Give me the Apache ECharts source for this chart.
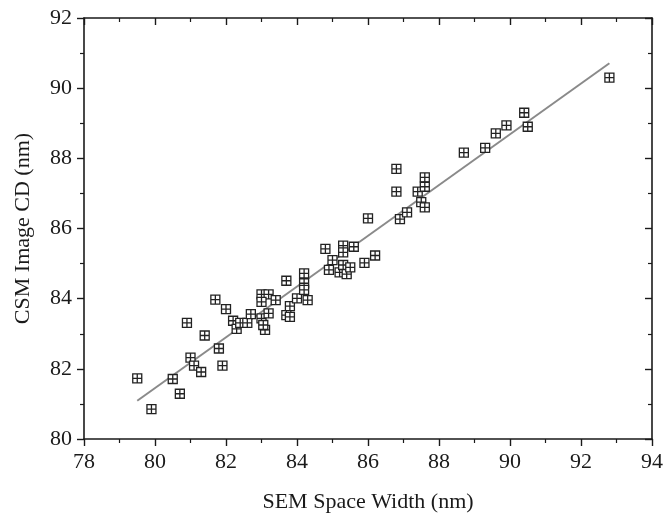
<!DOCTYPE html>
<html lang="en">
<head>
    <meta charset="UTF-8">
    <title>CSM vs SEM</title>
    <script src="https://cdn.jsdelivr.net/npm/echarts@6/dist/echarts.min.js"></script>
    <style>
        html, body { margin: 0; padding: 0; background: #fff; }
    </style>
</head>
<body>
<div id="chart" style="width: 666px;height:518px;"></div>

<script type="text/javascript">
    // SEM space width (nm)
    var semWidth = [
        79.5, 79.9, 80.5, 80.7, 80.9, 81.0, 81.1, 81.3, 81.4, 81.7,
        81.8, 81.9, 82.0, 82.2, 82.3, 82.4, 82.6, 82.7, 83.0, 83.2,
        83.0, 83.0, 83.2, 83.1, 83.4, 83.05, 83.7, 83.8, 83.7, 83.8,
        84.0, 84.2, 84.2, 84.2, 84.3, 84.8, 85.3, 85.3, 85.6, 85.0,
        85.9, 86.2, 84.9, 85.2, 85.3, 85.4, 85.5, 86.0, 86.9, 87.1,
        86.8, 86.8, 87.4, 87.5, 87.6, 87.6, 87.6, 88.7, 89.3, 89.6,
        89.9, 90.4, 90.5, 92.8
    ];
    // CSM image CD (nm)
    var csmCD = [
        81.73, 80.85, 81.71, 81.29, 83.31, 82.32, 82.09, 81.91, 82.95, 83.97,
        82.58, 82.09, 83.70, 83.37, 83.14, 83.31, 83.31, 83.56, 84.12, 84.12,
        83.91, 83.44, 83.58, 83.11, 83.96, 83.25, 84.51, 83.79, 83.53, 83.48,
        84.01, 84.72, 84.44, 84.25, 83.96, 85.42, 85.51, 85.32, 85.48, 85.10,
        85.02, 85.23, 84.82, 84.75, 84.96, 84.70, 84.89, 86.29, 86.27, 86.46,
        87.70, 87.05, 87.05, 86.75, 87.46, 87.19, 86.60, 88.16, 88.30, 88.71,
        88.94, 89.30, 88.90, 90.30
    ];
    // linear fit end points
    var fitX = [79.5, 92.8];
    var fitY = [81.09, 90.71];

    var xTicks = { min: 78, max: 94, interval: 2 };
    var yTicks = { min: 80, max: 92, interval: 2 };

    var points = semWidth.map(function (x, i) { return [x, csmCD[i]]; });
    var fitLine = fitX.map(function (x, i) { return [x, fitY[i]]; });

    var serif = 'Liberation Serif';
    var ink = '#1a1a1a';

    function makeAxis(range, pos, inside, withLabel, name) {
        return {
            type: 'value',
            position: pos,
            min: range.min,
            max: range.max,
            interval: range.interval,
            name: name || '',
            nameLocation: 'middle',
            nameTextStyle: { fontFamily: serif, fontSize: 22, color: ink },
            axisLine: { show: true, onZero: false, lineStyle: { color: ink, width: 1.6 } },
            axisTick: { show: true, inside: inside, length: 7, lineStyle: { color: ink, width: 1.4 } },
            minorTick: { show: true, splitNumber: 2, length: 4, lineStyle: { color: ink, width: 1.2 } },
            axisLabel: { show: withLabel, fontFamily: serif, fontSize: 22, color: ink, margin: 12 },
            splitLine: { show: false }
        };
    }

    var chart = echarts.init(document.getElementById('chart'));

    var xBottom = makeAxis(xTicks, 'bottom', false, true, 'SEM Space Width (nm)');
    xBottom.nameGap = 52;
    var xTop = makeAxis(xTicks, 'top', true, false);
    var yLeft = makeAxis(yTicks, 'left', false, true, 'CSM Image CD (nm)');
    yLeft.nameGap = 50;
    var yRight = makeAxis(yTicks, 'right', true, false);

    var option = {
        animation: false,
        backgroundColor: '#fff',
        grid: { left: 84, right: 11, top: 18, bottom: 79 },
        xAxis: [xBottom, xTop],
        yAxis: [yLeft, yRight],
        series: [
            {
                name: 'fit',
                type: 'line',
                data: fitLine,
                symbol: 'none',
                lineStyle: { color: '#8a8a8a', width: 2 },
                z: 1
            },
            {
                name: 'data',
                type: 'scatter',
                data: points,
                symbol: 'path://M0,0L10,0L10,10L0,10Z M5,0L5,10 M0,5L10,5',
                symbolSize: 9,
                itemStyle: { color: '#fff', borderColor: '#222', borderWidth: 1.3, opacity: 1 },
                z: 2
            }
        ]
    };
    chart.setOption(option);
</script>

</body>
</html>
